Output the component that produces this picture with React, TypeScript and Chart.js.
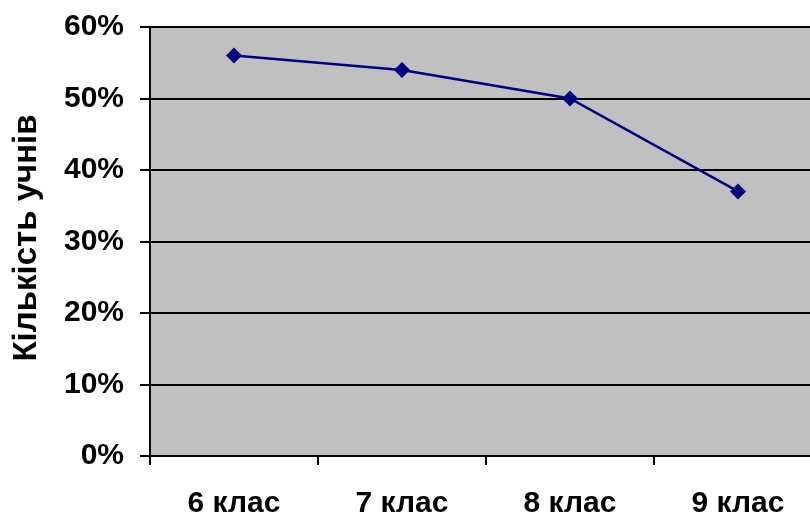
import React, { useEffect, useRef } from "react";
import { Chart, registerables } from "chart.js";

Chart.register(...registerables);

const grades = ["6 клас", "7 клас", "8 клас", "9 клас"];
const shares = [0.56, 0.54, 0.5, 0.37];
const yTitle = "Кількість учнів";

const FONT = "'Liberation Sans', Arial, sans-serif";

// Gray fill behind the plotting area
const plotBackground = {
  id: "plotBackground",
  beforeDraw(chart: any) {
    const { ctx, chartArea } = chart;
    ctx.save();
    ctx.fillStyle = "#C0C0C0";
    ctx.fillRect(chartArea.left, chartArea.top, chartArea.right - chartArea.left, chartArea.bottom - chartArea.top);
    ctx.restore();
  },
};

// Rotated axis title on the left side
const sideTitle = {
  id: "sideTitle",
  afterDraw(chart: any) {
    const { ctx } = chart;
    ctx.save();
    ctx.translate(27, 238);
    ctx.rotate(-Math.PI / 2);
    ctx.font = `bold 33px ${FONT}`;
    ctx.fillStyle = "#000";
    ctx.textAlign = "center";
    ctx.textBaseline = "middle";
    ctx.fillText(yTitle, 0, 0);
    ctx.restore();
  },
};

export default function App() {
  const ref = useRef<HTMLCanvasElement | null>(null);

  useEffect(() => {
    if (!ref.current) return;
    const chart = new Chart(ref.current, {
      type: "line",
      data: {
        labels: grades,
        datasets: [
          {
            data: shares,
            borderColor: "#000080",
            backgroundColor: "#000080",
            borderWidth: 2.5,
            pointStyle: "rectRot",
            pointRadius: 8,
            pointBorderWidth: 0,
            pointBackgroundColor: "#000080",
            tension: 0,
          },
        ],
      },
      options: {
        responsive: false,
        animation: false,
        layout: { padding: { top: 27, right: 6, left: 0, bottom: 0 } },
        plugins: { legend: { display: false }, tooltip: { enabled: false } },
        scales: {
          x: {
            offset: true,
            grid: {
              display: true,
              drawOnChartArea: false,
              drawTicks: true,
              tickLength: 9,
              color: "#000",
              lineWidth: 2,
              offset: true,
            },
            border: { display: true, color: "#000", width: 2 },
            ticks: {
              color: "#000",
              font: { family: FONT, size: 30, weight: "bold" },
              padding: 21,
              maxRotation: 0,
            },
            afterFit(s: any) {
              s.height = 58;
              s.paddingLeft = 0;
              s.paddingRight = 0;
            },
          },
          y: {
            min: 0,
            max: 0.6,
            grid: { color: "#000", lineWidth: 2, tickLength: 10 },
            border: { display: true, color: "#000", width: 2 },
            ticks: {
              stepSize: 0.1,
              color: "#000",
              font: { family: FONT, size: 30, weight: "bold" },
              padding: 16,
              callback: (v: any) => `${Math.round(Number(v) * 100)}%`,
            },
            afterFit(s: any) {
              s.width = 150;
              s.paddingTop = 0;
              s.paddingBottom = 0;
            },
          },
        },
      },
      plugins: [plotBackground, sideTitle],
    });
    return () => chart.destroy();
  }, []);

  return (
    <div style={{ position: "fixed", left: 0, top: 0, width: 810, height: 514, overflow: "hidden", background: "#fff" }}>
      <canvas ref={ref} width={830} height={514} style={{ display: "block" }} />
    </div>
  );
}
